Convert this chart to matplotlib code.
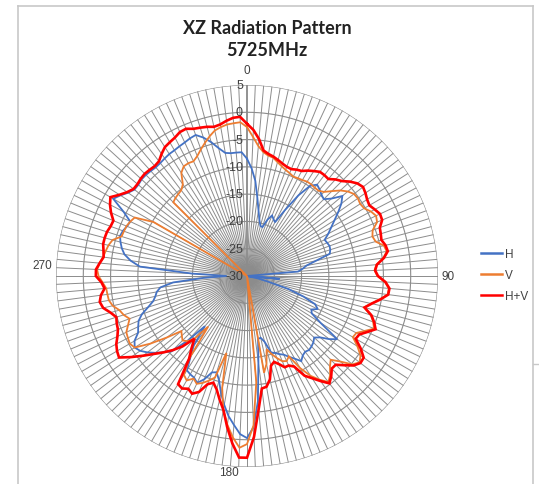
import numpy as np
import matplotlib
matplotlib.use("Agg")
import matplotlib.pyplot as plt
from matplotlib.lines import Line2D

# ---- data (dB), one value every 2.5 degrees starting at 0 ----
angles_deg = np.arange(0, 360, 2.5)

h_vals = [
    -8.5, -10.3, -12.5, -15.5, -17.8, -19.5, -20.5, -20.6, -19.0, -18.0, -18.5, -18.9,
    -16.0, -12.5, -9.8, -8.9, -9.3, -9.8, -10.1, -9.0, -7.2, -8.2, -9.6, -11.0,
    -12.2, -13.2, -14.3, -14.1, -13.9, -14.0, -14.3, -17.0, -18.9, -19.7, -20.6, -30,
    -30, -30, -24.0, -30, -30, -28.0, -26.0, -22.0, -19.0, -16.5, -15.7, -16.7,
    -16.3, -14.0, -9.8, -11.0, -12.5, -13.3, -12.8, -12.5, -12.3, -12.5, -12.2, -11.5,
    -12.5, -13.3, -14.1, -14.5, -15.0, -15.3, -17.5, -18.4, -18.3, -14.0, -7.0, -2.3,
    -0.3, -1.0, -2.6, -4.1, -6.0, -8.0, -10.2, -11.5, -11.2, -9.5, -8.4, -9.0,
    -9.2, -9.5, -12.0, -14.0, -18.0, -14.0, -10.5, -9.3, -8.1, -7.0, -6.1, -5.6,
    -6.2, -7.5, -8.0, -8.5, -9.5, -11.0, -12.2, -12.8, -13.2, -14.0, -16.4, -22.0,
    -26.3, -20.0, -10.3, -8.5, -7.2, -6.5, -6.0, -5.6, -5.8, -6.2, -6.4, -4.5,
    -1.7, -2.5, -3.4, -4.0, -4.0, -3.8, -3.8, -3.9, -4.0, -3.9, -3.7, -3.5,
    -3.4, -3.2, -3.0, -2.7, -2.5, -3.4, -4.6, -6.0, -7.1, -7.3, -7.3, -7.3,
]

v_vals = [
    -2.7, -4.5, -6.1, -7.1, -7.6, -7.8, -8.4, -8.9, -9.3, -9.6, -9.9, -9.8,
    -9.7, -9.5, -9.5, -9.6, -9.6, -9.1, -8.0, -6.8, -5.9, -5.3, -5.2, -5.4,
    -5.2, -4.4, -3.9, -4.2, -5.5, -5.9, -5.6, -4.3, -4.0, -4.8, -6.2, -6.6,
    -6.1, -4.7, -3.9, -4.0, -5.3, -6.7, -7.8, -6.2, -5.4, -4.8, -6.2, -7.4,
    -7.6, -6.0, -4.6, -4.0, -4.8, -6.8, -8.3, -7.5, -6.3, -5.5, -6.8, -8.3,
    -10.5, -13.4, -12.8, -13.1, -14.0, -15.0, -16.1, -13.5, -12.0, -30, -10.5, -2.6,
    0.8, 1.5, -0.3, -2.5, -5.0, -9.0, -15.4, -10.5, -9.6, -8.8, -8.2, -8.8,
    -7.9, -8.5, -11.5, -18.3, -15.0, -13.8, -13.3, -13.8, -14.3, -11.5, -8.4, -5.6,
    -5.2, -5.4, -5.6, -6.4, -7.1, -6.3, -5.8, -4.8, -4.3, -4.2, -4.1, -3.5,
    -2.8, -2.5, -2.9, -3.4, -3.7, -4.0, -4.5, -5.9, -6.0, -6.1, -6.4, -6.8,
    -10.2, -30, -30, -30, -30, -30, -10.9, -10.6, -10.4, -10.2, -9.5, -7.6,
    -6.8, -6.7, -6.8, -6.2, -5.3, -4.4, -3.5, -2.7, -2.3, -2.0, -1.9, -1.8,
]

hv_vals = [
    -2.1, -3.2, -4.8, -6.8, -7.3, -7.6, -8.0, -8.4, -8.7, -8.8, -8.5, -8.3,
    -7.7, -7.2, -6.7, -6.7, -6.8, -6.0, -5.4, -4.4, -3.6, -3.2, -3.5, -3.9,
    -4.1, -3.6, -3.1, -3.2, -4.1, -4.3, -4.5, -4.0, -3.8, -4.7, -6.1, -6.5,
    -6.0, -4.6, -3.8, -3.9, -5.2, -6.6, -7.7, -6.1, -5.2, -4.5, -5.7, -6.8,
    -7.0, -5.3, -3.9, -3.8, -4.5, -5.8, -7.0, -7.0, -6.0, -5.2, -6.5, -7.8,
    -8.9, -11.3, -11.9, -11.9, -12.8, -13.5, -13.0, -10.6, -9.4, -9.2, -5.5, -0.5,
    3.3, 3.3, 0.8, -2.1, -5.1, -6.8, -8.5, -9.5, -8.9, -7.0, -6.2, -6.7,
    -6.2, -6.5, -11.5, -13.3, -15.0, -12.5, -10.8, -9.3, -7.8, -6.0, -4.1, -2.2,
    -2.5, -3.0, -3.8, -4.4, -4.6, -4.9, -4.1, -3.0, -2.6, -3.0, -3.8, -3.3,
    -2.3, -2.3, -2.9, -3.5, -3.3, -3.0, -3.0, -3.1, -3.4, -3.5, -2.5, -1.7,
    -1.1, -2.3, -3.2, -3.8, -3.8, -3.6, -3.5, -3.6, -3.7, -3.5, -2.7, -2.0,
    -1.7, -1.4, -0.9, -0.8, -1.3, -1.5, -1.7, -2.0, -1.8, -1.3, -0.9, -0.8,
]

series_names = ["H", "V", "H+V"]
series_colors = ["#4472C4", "#ED7D31", "#FF0000"]
series_widths = [1.3, 1.3, 1.9]
r_ticks = [-30, -25, -20, -15, -10, -5, 0, 5]
angle_labels = ["0", "90", "180", "270"]

title_lines = ["XZ Radiation Pattern", "5725MHz"]

# ---- figure ----
W, H = 539, 485
fig = plt.figure(figsize=(W / 100, H / 100), dpi=100)
fig.patch.set_facecolor("white")

def fx(px):
    return px / W

def fy(py):
    return 1 - py / H

cx, cy, R = 247, 277, 191
ax = fig.add_axes([fx(cx - R), fy(cy + R), 2 * R / W, 2 * R / H], projection="polar")
ax.set_theta_zero_location("N")
ax.set_theta_direction(-1)
ax.set_ylim(r_ticks[0], r_ticks[-1])
ax.set_facecolor("none")
ax.spines["polar"].set_visible(False)
ax.grid(False)
ax.set_xticks([])
ax.set_yticks([])

grid_color = "#8c8c8c"
# spokes
for a in angles_deg:
    t = np.deg2rad(a)
    lw = 1.2 if a == 0 else 0.7
    col = "#7f7f7f" if a == 0 else grid_color
    ax.plot([t, t], [r_ticks[0], r_ticks[-1]], color=col, lw=lw, zorder=1)
# rings
tt = np.linspace(0, 2 * np.pi, 721)
for rv in r_ticks[1:]:
    ax.plot(tt, np.full_like(tt, rv), color=grid_color, lw=0.8, zorder=1)

# series
theta = np.deg2rad(np.append(angles_deg, angles_deg[0]))
for vals, name, col, lw in zip([h_vals, v_vals, hv_vals], series_names, series_colors, series_widths):
    v = np.clip(np.array(vals, dtype=float), r_ticks[0], r_ticks[-1])
    v = np.append(v, v[0])
    ax.plot(theta, v, color=col, lw=lw, label=name, zorder=3, solid_joinstyle="miter")

# radial tick labels along the 0 spoke
for rv in r_ticks:
    ax.annotate(str(rv), xy=(0, rv), xytext=(-4, 0), textcoords="offset pixels",
                ha="right", va="center", fontsize=9, color="#404040",
                family="Liberation Sans", zorder=4, annotation_clip=False)

# angle labels
lab_pos = [(247, 71), (448, 277), (229, 473), (42, 266)]
for lab, (px, py) in zip(angle_labels, lab_pos):
    fig.text(fx(px), fy(py), lab, ha="center", va="center", fontsize=8.5,
             color="#404040", family="Liberation Sans")

# title
fig.text(fx(267), fy(28), title_lines[0], ha="center", va="center", fontsize=13,
         fontweight="bold", color="#222222", family="Lato")
fig.text(fx(267), fy(50), title_lines[1], ha="center", va="center", fontsize=13,
         fontweight="bold", color="#222222", family="Lato")

# legend
handles = [Line2D([], [], color=c, lw=1.8) for c in series_colors]
leg = fig.legend(handles, series_names, loc="center left",
                 bbox_to_anchor=(fx(481), fy(276)), frameon=False, borderpad=0,
                 borderaxespad=0,
                 prop={"family": "Liberation Sans", "size": 8.5},
                 handlelength=1.75, handletextpad=0.3, labelspacing=0.75)
for t in leg.get_texts():
    t.set_color("#404040")

# chart frame
frame_col = "#c8c8c8"
fig.add_artist(Line2D([fx(18), fx(18)], [fy(7), fy(485)], color=frame_col, lw=1.2))
fig.add_artist(Line2D([fx(18), fx(533)], [fy(7), fy(7)], color=frame_col, lw=1.2))
fig.add_artist(Line2D([fx(533), fx(533)], [fy(7), fy(485)], color=frame_col, lw=1.2))
fig.add_artist(Line2D([fx(533), fx(539)], [fy(365), fy(365)], color=frame_col, lw=1.0))

fig.savefig("out.png", dpi=100)
